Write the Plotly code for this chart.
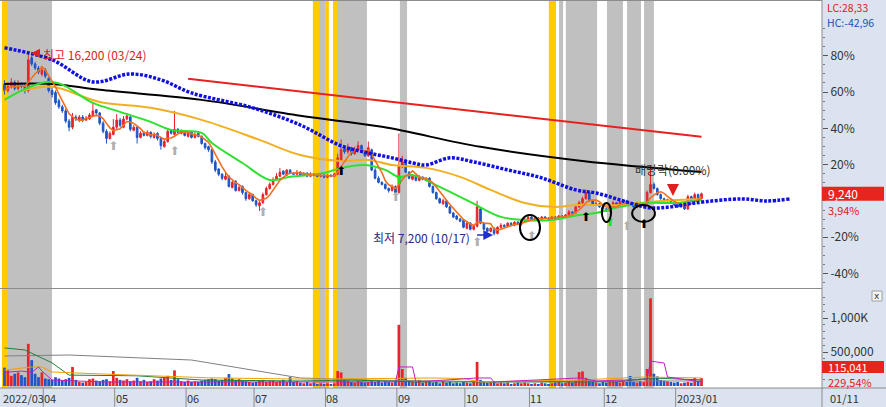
import plotly.graph_objects as go
import pandas as pd

# ---------------- data ----------------
month_idx = [0, 12, 33, 54, 74, 95, 116, 136, 155, 177, 198]
month_lbl = ["2022/03", "04", "05", "06", "07", "08", "09", "10", "11", "12", "2023/01"]

open_ = [14600, 14300, 14500, 14700, 14400, 14600, 14500, 14300, 15900, 15600,
         15400, 15100, 15300, 14900, 14300, 14200, 13800, 13500, 13300, 12800,
         12500, 13000, 12850, 13000, 12850, 12900, 13050, 13350, 13200, 12700,
         12300, 11950, 12150, 12500, 12850, 12500, 12900, 13000, 12350, 12500,
         12000, 12250, 12100, 12250, 12000, 12200, 11950, 11550, 11800, 12350,
         12150, 12400, 12200, 12300, 12050, 12250, 12000, 12200, 12050, 11700,
         11550, 11400, 10800, 10450, 10200, 9950, 10100, 9550, 9850, 9400,
         9600, 9300, 9000, 9200, 8900, 8650, 8800, 9200, 9500, 9700,
         9950, 10100, 10350, 10150, 10400, 10250, 10200, 10300, 10150, 10250,
         10100, 10200, 10150, 10100, 10150, 10050, 10150, 10100, 10200, 10900,
         11450, 11300, 11500, 11200, 11400, 11600, 11300, 11100, 11400, 10400,
         10000, 9800, 9700, 9500, 9400, 9600, 9300, 10600, 10900, 10300,
         9950, 10100, 9900, 10050, 9900, 10000, 9600, 9300, 9000, 8750,
         8900, 8600, 8300, 8150, 8000, 7950, 7550, 7800, 7500, 7650,
         8500, 7800, 7550, 7400, 7550, 7300, 7600, 7700, 7650, 7800,
         7700, 7850, 7750, 7900, 8000, 8100, 7950, 8050, 8000, 8100,
         8050, 8000, 8100, 8050, 8150, 8100, 8200, 8350, 8300, 8600,
         8800, 9000, 9300, 8900, 8700, 8750, 8600, 8500, 8400, 8600,
         8800, 8700, 8850, 8900, 8750, 8700, 8600, 8800, 8650, 8750,
         9300, 9700, 9500, 9200, 9000, 8900, 8950, 8800, 8700, 8600,
         8650, 8500, 9100, 8900, 9200, 9000]

high = [14800, 14700, 14900, 14800, 14800, 14700, 14600, 16200, 16000, 15700,
        15500, 15500, 15400, 14950, 14450, 14300, 13900, 13600, 13400, 12900,
        13200, 13100, 13100, 13100, 13050, 13200, 13700, 13400, 13250, 12800,
        12400, 12300, 12900, 13150, 12950, 13050, 13200, 13050, 12600, 12550,
        12300, 12300, 12350, 12300, 12250, 12250, 12000, 11900, 12400, 12400,
        13300, 12450, 12400, 12350, 12250, 12300, 12250, 12250, 12100, 11750,
        11600, 11450, 10900, 10500, 10250, 10300, 10150, 9900, 9900, 9700,
        9650, 9350, 9300, 9250, 8950, 8900, 9300, 9600, 9800, 10050,
        10250, 10500, 10400, 10450, 10450, 10300, 10400, 10350, 10300, 10300,
        10300, 10250, 10200, 10250, 10200, 10200, 10200, 10250, 11200, 11900,
        11600, 11700, 11550, 11550, 11800, 11650, 11350, 11800, 11450, 10500,
        10100, 9850, 9750, 9550, 9700, 9650, 12200, 11100, 10950, 10350,
        10200, 10150, 10150, 10100, 10050, 10050, 9650, 9350, 9050, 9000,
        8950, 8650, 8350, 8200, 8050, 8000, 7900, 7850, 7700, 8900,
        8550, 7850, 7600, 7600, 7600, 7650, 7800, 7750, 7850, 7850,
        7900, 7900, 7950, 8100, 8150, 8150, 8100, 8100, 8150, 8150,
        8100, 8150, 8150, 8200, 8200, 8250, 8450, 8400, 8700, 8900,
        9100, 9450, 9350, 8950, 8850, 8800, 8650, 8550, 8700, 8900,
        8850, 8900, 8950, 8950, 8800, 8750, 8850, 8850, 8800, 9400,
        10650, 9800, 9550, 9250, 9050, 9000, 9000, 8850, 8750, 8700,
        8700, 9200, 9150, 9300, 9250, 9300]

low = [14100, 14200, 14400, 14300, 14300, 14400, 14150, 14200, 15500, 15300,
       15100, 15000, 14900, 14200, 13950, 13600, 13400, 13200, 12700, 12300,
       12400, 12800, 12750, 12750, 12800, 12850, 13000, 13100, 12600, 12200,
       11700, 11900, 12100, 12400, 12500, 12450, 12850, 12300, 12300, 11700,
       11950, 12050, 12050, 11950, 11950, 11850, 11400, 11500, 11750, 12150,
       12100, 12200, 12150, 12050, 12000, 11950, 11950, 12000, 11650, 11400,
       11300, 10700, 10300, 10100, 9900, 9900, 9550, 9500, 9350, 9350,
       9200, 8900, 8950, 8850, 8600, 8400, 8750, 9150, 9450, 9650,
       9900, 10050, 10150, 10100, 10200, 10150, 10150, 10100, 10100, 10050,
       10050, 10100, 10050, 10050, 10000, 10000, 10050, 10050, 10150, 10850,
       11200, 11200, 11100, 11150, 11350, 11250, 11050, 11050, 10350, 9950,
       9750, 9650, 9450, 9300, 9350, 9250, 9250, 10500, 10250, 9950,
       9900, 9850, 9850, 9900, 9850, 9550, 9250, 8950, 8750, 8700,
       8550, 8250, 8050, 7950, 7850, 7550, 7500, 7450, 7450, 7600,
       7750, 7450, 7350, 7350, 7200, 7250, 7550, 7600, 7600, 7650,
       7650, 7700, 7700, 7850, 7950, 7900, 7900, 7950, 7950, 8000,
       7950, 7950, 8000, 8000, 8050, 8050, 8150, 8250, 8250, 8550,
       8750, 8950, 8850, 8650, 8650, 8550, 8450, 8350, 8350, 8550,
       8650, 8650, 8800, 8700, 8650, 8550, 8550, 8600, 8600, 8700,
       9250, 9450, 9150, 8950, 8850, 8850, 8750, 8650, 8550, 8550,
       8450, 8450, 8850, 8850, 8950, 8950]

close = [14300, 14500, 14700, 14400, 14600, 14500, 14300, 15800, 15600, 15400,
         15200, 15300, 15000, 14300, 14100, 13700, 13500, 13300, 12800, 12500,
         13000, 12900, 13000, 12850, 12950, 13100, 13300, 13200, 12700, 12300,
         11950, 12200, 12500, 12850, 12600, 12900, 13050, 12400, 12500, 12000,
         12200, 12100, 12250, 12050, 12150, 11950, 11600, 11800, 12300, 12200,
         12400, 12250, 12300, 12100, 12200, 12000, 12150, 12050, 11700, 11500,
         11400, 10800, 10400, 10200, 10000, 10100, 9600, 9800, 9400, 9550,
         9300, 9000, 9200, 8900, 8700, 8800, 9200, 9500, 9700, 9900,
         10100, 10300, 10200, 10400, 10250, 10200, 10300, 10150, 10250, 10100,
         10200, 10150, 10100, 10150, 10050, 10150, 10100, 10200, 11000, 11400,
         11300, 11500, 11200, 11400, 11600, 11300, 11100, 11500, 10400, 10000,
         9800, 9700, 9500, 9400, 9600, 9300, 10600, 10800, 10300, 10000,
         10100, 9900, 10050, 9950, 10000, 9600, 9300, 9000, 8800, 8900,
         8600, 8300, 8100, 8000, 7900, 7600, 7800, 7500, 7650, 8600,
         7800, 7500, 7400, 7550, 7300, 7600, 7700, 7650, 7800, 7700,
         7850, 7750, 7900, 8000, 8100, 7950, 8050, 8000, 8100, 8050,
         8000, 8100, 8050, 8150, 8100, 8200, 8350, 8300, 8600, 8800,
         9000, 9300, 8900, 8700, 8750, 8600, 8500, 8400, 8600, 8800,
         8700, 8850, 8900, 8750, 8700, 8600, 8800, 8650, 8750, 9300,
         9700, 9500, 9200, 9000, 8900, 8950, 8800, 8700, 8600, 8650,
         8500, 9100, 8900, 9200, 9000, 9240]

vol_k = [270, 230, 150, 180, 200, 160, 130, 620, 380, 180,
         130, 200, 110, 100, 90, 130, 110, 80, 100, 120,
         280, 90, 60, 50, 60, 100, 110, 80, 70, 90,
         100, 70, 220, 120, 90, 80, 100, 70, 80, 120,
         70, 90, 60, 70, 100, 80, 110, 130, 150, 90,
         230, 100, 70, 60, 80, 60, 70, 60, 80, 90,
         100, 110, 100, 80, 90, 120, 175, 110, 90, 100,
         80, 70, 60, 50, 60, 80, 90, 60, 70, 80,
         60, 70, 90, 60, 130, 60, 70, 50, 40, 60,
         40, 50, 30, 40, 30, 40, 30, 40, 220, 200,
         90, 80, 60, 50, 70, 60, 50, 60, 70, 60,
         80, 50, 70, 60, 50, 80, 900, 250, 120, 80,
         70, 60, 90, 50, 60, 70, 50, 60, 40, 70,
         50, 60, 40, 50, 40, 60, 50, 40, 60, 355,
         90, 60, 50, 60, 70, 40, 50, 40, 50, 30,
         40, 50, 40, 50, 40, 30, 40, 30, 50, 40,
         30, 40, 50, 60, 40, 50, 60, 50, 80, 205,
         215, 120, 80, 60, 50, 40, 60, 50, 60, 70,
         60, 50, 80, 60, 147, 60, 50, 70, 60, 250,
         1290, 180, 140, 90, 80, 70, 60, 50, 60, 40,
         50, 60, 50, 118, 70, 115]

# moving-average lines (trading-day index, price)
green_i = [0, 14, 26, 34, 43, 49, 58, 61, 70, 78, 84, 94, 99, 106, 112, 116, 120, 128, 137, 146, 153, 161, 169, 174, 181, 189, 197, 205]
green_v = [13840, 14720, 13690, 13250, 12760, 12370, 12220, 11730, 10750, 9920, 10070, 10260, 10510, 10650, 10410, 10070, 10160, 9580, 8840, 8110, 7960, 7960, 8200, 8300, 8600, 8790, 8790, 8940]
yellow_i = [5, 14, 28, 43, 58, 75, 87, 99, 107, 114, 124, 134, 143, 153, 161, 169, 181, 193, 205]
yellow_v = [14280, 14480, 13740, 13450, 12860, 11880, 11140, 10850, 10900, 10650, 10510, 10070, 9430, 8790, 8600, 8690, 8690, 8890, 8990]
blue_i = [0, 14, 26, 37, 46, 55, 73, 87, 99, 107, 114, 120, 124, 131, 138, 148, 158, 168, 174, 184, 190, 196, 203, 217, 224, 231]
blue_v = [16390, 15800, 14720, 15110, 14820, 14180, 13450, 12610, 11590, 11240, 11000, 10750, 10650, 11000, 10800, 10410, 10020, 9430, 9280, 8790, 8550, 8600, 8790, 8990, 8890, 8990]
black_i = [0, 14, 28, 58, 87, 111, 140, 170, 205]
black_v = [14620, 14620, 14330, 13840, 13060, 12520, 11540, 10850, 10310]
red_i = [54, 87, 135, 170, 205]
red_v = [14870, 14250, 13350, 12690, 12030]

# volume moving averages (index, thousand shares)
vgray_i = [0, 19, 55, 73, 87, 106, 146, 176, 205]
vgray_v = [441, 456, 382, 235, 118, 88, 62, 70, 75]
vgreen_i = [0, 6, 14, 19, 39, 58, 87, 102, 122, 150, 180, 190, 205]
vgreen_v = [560, 530, 340, 160, 150, 88, 74, 88, 59, 55, 60, 118, 90]
vorange_i = [0, 8, 11, 14, 29, 60, 90, 116, 126, 135, 140, 150, 170, 188, 205]
vorange_v = [235, 280, 280, 206, 176, 120, 100, 118, 118, 110, 60, 70, 90, 132, 118]
vmag_i = [0, 5, 8, 10, 11, 14, 29, 60, 90, 115, 116, 120, 121, 139, 143, 144, 169, 174, 189, 190, 194, 195, 205]
vmag_v = [200, 220, 200, 280, 220, 88, 59, 60, 50, 60, 280, 280, 59, 118, 118, 59, 118, 74, 100, 367, 338, 132, 59]

# shaded event bands (trading-day index)
band_start = [-0.75, 0.75, 90.7, 92.5, 94.3, 96.6, 97.8, 116.3, 160.1, 163.1, 165.1, 177.2, 183.1, 188.1]
band_end = [0.75, 13.97, 92.5, 94.3, 95.4, 97.8, 106.6, 118.4, 162.2, 164.3, 174.3, 181.9, 187.2, 191.0]
band_kind = ["gold", "gray", "gold", "gray", "gold", "gold", "gray", "gray", "gold", "gray", "gray", "gray", "gray", "gray"]

# signal markers
gray_sig_i = [32, 50, 76, 115, 139, 155, 183]
gray_sig_p = [11536, 11291, 8302, 9040, 6832, 7126, 7616]
black_sig_i = [99, 171, 188]
black_sig_p = [10311, 8057, 7714]
green_sig_i = [116, 178]
green_sig_p = [9870, 7812]

# ellipses: (i0, i1, p0, p1)
ellipses = [(151.6, 157.5, 6979, 8204), (175.7, 178.4, 7861, 8792), (184.6, 191.3, 7861, 8694)]

pct_ticks = [80, 60, 40, 20, -20, -40]
last_pct = 3.94
high_i, high_p = 7, 16200
low_i, low_p = 144, 7200
div_i = 197

# ---------------- figure ----------------
W, H = 886, 407
RED = "#E8242A"
BLUE = "#1E55C8"
FONT = "Noto Sans CJK KR"

base = close[-1] / (1 + last_pct / 100)
xi = list(range(len(close)))
x_r0 = -4.5 / 3.4
x_r1 = x_r0 + 822 / 3.4
p_lo = base * (1 - 0.474)
p_hi = base * (1 + 1.107)
v_lo, v_hi = -29.4, 1411.8

def py(y):
    return 1 - y / H

def px(x):
    return x / W

fig = go.Figure()

for s, e, k in zip(band_start, band_end, band_kind):
    fig.add_shape(type="rect", xref="x", yref="paper", x0=s, x1=e, y0=py(388), y1=1,
                  fillcolor="#FFCC00" if k == "gold" else "#C0C0C0", line_width=0, layer="below")

orange_ma = pd.Series(close).rolling(5, min_periods=1).mean()

fig.add_trace(go.Scatter(x=red_i, y=red_v, mode="lines", line=dict(color="#E82020", width=2), hoverinfo="skip"))
fig.add_trace(go.Scatter(x=black_i, y=black_v, mode="lines", line=dict(color="#000000", width=2, shape="spline"), hoverinfo="skip"))
fig.add_trace(go.Scatter(x=yellow_i, y=yellow_v, mode="lines", line=dict(color="#F0B020", width=2, shape="spline"), hoverinfo="skip"))
fig.add_trace(go.Scatter(x=green_i, y=green_v, mode="lines", line=dict(color="#30E030", width=2, shape="spline"), hoverinfo="skip"))
fig.add_trace(go.Scatter(x=xi, y=orange_ma, mode="lines", line=dict(color="#F07020", width=1.6), hoverinfo="skip"))
fig.add_trace(go.Scatter(x=blue_i, y=blue_v, mode="lines", line=dict(color="#1010E0", width=3.5, shape="spline", dash="3px,1.5px"), hoverinfo="skip"))

fig.add_trace(go.Candlestick(x=xi, open=open_, high=high, low=low, close=close,
                             increasing=dict(line=dict(color=RED, width=1), fillcolor=RED),
                             decreasing=dict(line=dict(color=BLUE, width=1), fillcolor=BLUE),
                             whiskerwidth=0, hoverinfo="skip"))

fig.add_trace(go.Scatter(x=gray_sig_i, y=gray_sig_p, mode="text", text=["⬆"] * len(gray_sig_i),
                         textfont=dict(color="#B0B0B0", size=12, family="DejaVu Sans"), hoverinfo="skip"))
fig.add_trace(go.Scatter(x=black_sig_i, y=black_sig_p, mode="text", text=["⬆"] * len(black_sig_i),
                         textfont=dict(color="#000000", size=12, family="DejaVu Sans"), hoverinfo="skip"))
fig.add_trace(go.Scatter(x=green_sig_i, y=green_sig_p, mode="text", text=["⬆"] * len(green_sig_i),
                         textfont=dict(color="#20E020", size=12, family="DejaVu Sans"), hoverinfo="skip"))

for (a0, a1, b0, b1) in ellipses:
    fig.add_shape(type="circle", xref="x", yref="y", x0=a0, x1=a1, y0=b0, y1=b1,
                  line=dict(color="#000000", width=2))

# volume
vcol = [RED if c >= o else BLUE for o, c in zip(open_, close)]
fig.add_trace(go.Bar(x=xi, y=vol_k, marker=dict(color=vcol, line_width=0), width=0.8,
                     yaxis="y2", hoverinfo="skip"))
for ii, vv, cc in [(vgray_i, vgray_v, "#808080"), (vgreen_i, vgreen_v, "#208040"),
                   (vorange_i, vorange_v, "#F0A000"), (vmag_i, vmag_v, "#C020C0")]:
    fig.add_trace(go.Scatter(x=ii, y=vv, mode="lines", line=dict(color=cc, width=1), yaxis="y2", hoverinfo="skip"))

# panels / borders
fig.add_shape(type="rect", xref="paper", yref="paper", x0=px(822), x1=1, y0=0, y1=1,
              fillcolor="#DAE3EF", line_width=0, layer="below")
fig.add_shape(type="rect", xref="paper", yref="paper", x0=0, x1=px(822), y0=0, y1=py(388),
              fillcolor="#DAE3EF", line_width=0, layer="below")
for y in [0.5, 288.5, 388]:
    fig.add_shape(type="line", xref="paper", yref="paper", x0=0, x1=1 if y == 388 else px(822),
                  y0=py(y), y1=py(y), line=dict(color="#8C8C8C", width=1))
fig.add_shape(type="line", xref="paper", yref="paper", x0=px(822), x1=px(822), y0=0, y1=1,
              line=dict(color="#8C8C8C", width=1))

ann = []

def txt(x, y, s, color, size=12, xref="paper", yref="paper", xanchor="left", family=FONT):
    ann.append(dict(x=x, y=y, xref=xref, yref=yref, text=s, showarrow=False,
                    xanchor=xanchor, yanchor="middle",
                    font=dict(size=size, color=color, family=family)))

# month labels
for m, lbl in zip(month_idx, month_lbl):
    xs = m - 0.6
    if m > 0:
        fig.add_shape(type="line", xref="x", yref="paper", x0=xs, x1=xs, y0=0, y1=py(388),
                      line=dict(color="#8C8C8C", width=1))
    txt(max(xs - 0.3, x_r0), py(397.5), lbl, "#333333", size=11, xref="x")
txt(px(828), py(397.5), "01/11", "#333333", size=11)

# right panel texts
txt(px(825), py(7.5), "LC:28,33", "#E02020", size=10.5)
txt(px(825), py(22), "HC:-42,96", "#2050C0", size=10.5)
fig.add_shape(type="rect", xref="paper", yref="y", x0=px(822), x1=px(884),
              y0=close[-1] - 7 * base * 0.01 / 1.815, y1=close[-1] + 7 * base * 0.01 / 1.815,
              fillcolor="#E8241E", line_width=0)
txt(px(826), close[-1], f"{close[-1]:,}", "white", size=12, yref="y")
txt(px(826), py(210), "3,94%", "#E02020", size=11)
fig.add_shape(type="rect", xref="paper", yref="paper", x0=px(822), x1=px(884), y0=py(373), y1=py(361),
              fillcolor="#E8241E", line_width=0)
txt(px(826), py(366.5), "115,041", "white", size=11)
txt(px(826), py(382), "229,54%", "#E02020", size=11)
fig.add_shape(type="rect", xref="paper", yref="paper", x0=px(872), x1=px(882), y0=py(301), y1=py(291),
              fillcolor="#F4F6FA", line=dict(color="#A0A0A0", width=1))
txt(px(877), py(296), "x", "#333333", size=9, xanchor="center", family="DejaVu Sans")

# chart annotations
txt(high_i + 3.6, high_p - 120, "최고 16,200 (03/24)", "#E02020", xref="x", yref="y")
ann.append(dict(x=high_i + 0.8, y=high_p - 80, xref="x", yref="y", text=" ", showarrow=True, ax=12, ay=0,
                arrowhead=2, arrowsize=1.2, arrowwidth=1.5, arrowcolor="#E02020"))
txt(low_i - 6.5, low_p - 80, "최저 7,200 (10/17)", "#28288A", xref="x", yref="y", xanchor="right")
ann.append(dict(x=low_i - 0.3, y=low_p + 20, xref="x", yref="y", text=" ", showarrow=True, ax=-19, ay=0,
                arrowhead=2, arrowsize=1.3, arrowwidth=1.5, arrowcolor="#2030C8"))
txt(div_i - 0.4, 10409, "배당락(0.00%)", "#333333", xref="x", yref="y", xanchor="center")
ann.append(dict(x=div_i - 0.4, y=9135, xref="x", yref="y", text=" ", showarrow=True, ax=0, ay=-19,
                arrowhead=2, arrowsize=1.6, arrowwidth=1.5, arrowcolor="#E02020"))

tick_font = dict(size=12, color="#333333", family=FONT)
fig.update_layout(
    width=W, height=H, margin=dict(l=0, r=0, t=0, b=0),
    paper_bgcolor="white", plot_bgcolor="white", showlegend=False,
    font=dict(family=FONT),
    annotations=ann,
    xaxis=dict(domain=[0, px(822)], range=[x_r0, x_r1], showgrid=False, zeroline=False,
               showticklabels=False, ticks="", rangeslider=dict(visible=False), anchor="y2",
               showline=False, fixedrange=True),
    yaxis=dict(domain=[py(287), 1], range=[p_lo, p_hi], side="right", anchor="x",
               showgrid=False, zeroline=False, showline=False,
               tickmode="array", tickvals=[base * (1 + p / 100) for p in pct_ticks],
               ticktext=[f"{p}%" for p in pct_ticks], ticks="outside", ticklen=5,
               tickcolor="#555555", tickfont=tick_font,
               minor=dict(tickvals=[base * (1 + p / 100) for p in range(-45, 100, 5)],
                          ticks="outside", ticklen=2, tickcolor="#777777")),
    yaxis2=dict(domain=[py(388), py(290)], range=[v_lo, v_hi], side="right", anchor="x",
                showgrid=False, zeroline=False, showline=False,
                tickmode="array", tickvals=[500, 1000], ticktext=["500,000", "1,000K"],
                ticks="outside", ticklen=5, tickcolor="#555555", tickfont=tick_font,
                minor=dict(tickvals=list(range(100, 1400, 100)), ticks="outside", ticklen=2,
                           tickcolor="#777777")),
)

fig.write_html("out.html", config={"displayModeBar": False},
               post_script="document.body.style.margin='0';document.body.style.padding='0';")
